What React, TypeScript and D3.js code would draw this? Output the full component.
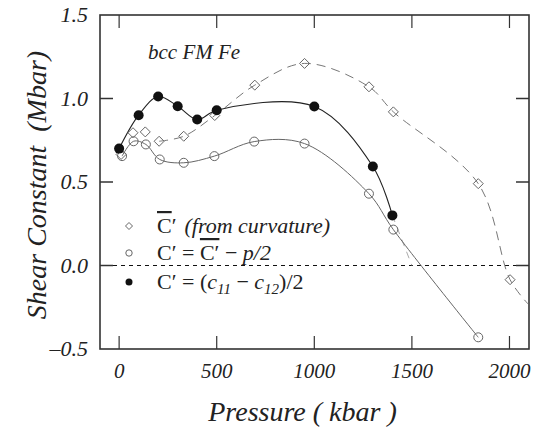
import React from "react";
import * as d3 from "d3";

// pressure (kbar), shear constant (Mbar)
const filledP = [0, 100, 200, 300, 400, 500, 1000, 1300, 1400];
const filledC = [0.70, 0.90, 1.012, 0.954, 0.874, 0.93, 0.952, 0.593, 0.30];

const openP = [15, 74, 137, 208, 331, 488, 692, 950, 1280, 1405, 1840];
const openC = [0.655, 0.744, 0.725, 0.635, 0.615, 0.655, 0.742, 0.73, 0.43, 0.215, -0.43];

const diamondP = [10, 71, 134, 205, 331, 490, 695, 950, 1280, 1405, 1840, 2003];
const diamondC = [0.665, 0.795, 0.80, 0.744, 0.774, 0.898, 1.08, 1.21, 1.07, 0.92, 0.49, -0.085];
const diamondLineStart = 3; // dashed curve begins at the 4th diamond
const diamondTailP = [2095];
const diamondTailC = [-0.23];

const extensionP = [1400, 1500];
const extensionC = [0.30, 0.0];

const xTicks = [0, 500, 1000, 1500, 2000];
const yTicks = [-0.5, 0.0, 0.5, 1.0, 1.5];
const yTickLabels = ["\u20130.5", "0.0", "0.5", "1.0", "1.5"];

const W = 542, H = 432;
const M = { left: 100, right: 529, top: 15, bottom: 349 };
const FONT = "'Liberation Serif', serif";

export default function App() {
  const x = d3.scaleLinear().domain([-98, 2100]).range([M.left, M.right]);
  const y = d3.scaleLinear().domain([-0.5, 1.5]).range([M.bottom, M.top]);
  const line = d3
    .line<[number, number]>()
    .x((d) => x(d[0]))
    .y((d) => y(d[1]))
    .curve(d3.curveCatmullRom.alpha(0.5));
  const straight = d3
    .line<[number, number]>()
    .x((d) => x(d[0]))
    .y((d) => y(d[1]));

  const filled: [number, number][] = filledP.map((p, i) => [p, filledC[i]]);
  const open: [number, number][] = openP.map((p, i) => [p, openC[i]]);
  const diamonds: [number, number][] = diamondP.map((p, i) => [p, diamondC[i]]);
  const dashedPts: [number, number][] = [
    ...diamonds.slice(diamondLineStart),
    ...diamondTailP.map((p, i) => [p, diamondTailC[i]] as [number, number]),
  ];
  const ext: [number, number][] = extensionP.map((p, i) => [p, extensionC[i]]);

  const diamondPath = (cx: number, cy: number, r: number) =>
    `M${cx},${cy - r}L${cx + r},${cy}L${cx},${cy + r}L${cx - r},${cy}Z`;

  const tickLen = 13;
  const axisColor = "#333";
  const fs = { fontFamily: FONT };

  return (
    <svg
      width={W}
      height={H}
      style={{ position: "absolute", left: 0, top: 0, background: "#fff", fontFamily: FONT }}
    >
      <rect x={0} y={0} width={W} height={H} fill="#fff" />
      {/* zero line */}
      <line
        x1={M.left + tickLen}
        x2={M.right - tickLen}
        y1={y(0)}
        y2={y(0)}
        stroke="#111"
        strokeWidth={1}
        strokeDasharray="4,4"
      />
      {/* ticks */}
      {xTicks.map((t) => (
        <g key={"xt" + t}>
          <line x1={x(t)} x2={x(t)} y1={M.bottom} y2={M.bottom - tickLen} stroke={axisColor} strokeWidth={1.2} />
          <line x1={x(t)} x2={x(t)} y1={M.top} y2={M.top + tickLen} stroke={axisColor} strokeWidth={1.2} />
          <text
            x={x(t)}
            y={M.bottom + 29}
            textAnchor="middle"
            fontSize={21}
            fontStyle="italic"
            fill="#222"
            style={fs}
          >
            {t}
          </text>
        </g>
      ))}
      {yTicks.map((t, i) => (
        <g key={"yt" + t}>
          {t > -0.5 && t < 1.5 && (
            <>
              <line x1={M.left} x2={M.left + tickLen} y1={y(t)} y2={y(t)} stroke={axisColor} strokeWidth={1.5} />
              <line x1={M.right} x2={M.right - tickLen} y1={y(t)} y2={y(t)} stroke={axisColor} strokeWidth={1.5} />
            </>
          )}
          <text
            x={M.left - 12}
            y={y(t) + 7}
            textAnchor="end"
            fontSize={22}
            fontStyle="italic"
            fill="#222"
            style={fs}
          >
            {yTickLabels[i]}
          </text>
        </g>
      ))}
      {/* frame */}
      <rect
        x={M.left}
        y={M.top}
        width={M.right - M.left}
        height={M.bottom - M.top}
        fill="none"
        stroke={axisColor}
        strokeWidth={1.6}
      />
      {/* curves */}
      <path d={straight(ext) || ""} fill="none" stroke="#aaa" strokeWidth={1} strokeDasharray="7,6" />
      <path d={line(dashedPts) || ""} fill="none" stroke="#777" strokeWidth={1} strokeDasharray="9,6" />
      <path d={line(open) || ""} fill="none" stroke="#666" strokeWidth={1} />
      <path d={line(filled) || ""} fill="none" stroke="#222" strokeWidth={1.1} />
      {/* markers */}
      {diamonds.map((d, i) => (
        <path key={"d" + i} d={diamondPath(x(d[0]), y(d[1]), 5)} fill="none" stroke="#666" strokeWidth={1} />
      ))}
      {open.map((d, i) => (
        <circle key={"o" + i} cx={x(d[0])} cy={y(d[1])} r={4.5} fill="none" stroke="#666" strokeWidth={1} />
      ))}
      {filled.map((d, i) => (
        <circle key={"f" + i} cx={x(d[0])} cy={y(d[1])} r={5} fill="#111" />
      ))}
      {/* annotation */}
      <text x={148} y={59} fontSize={21} fontStyle="italic" fill="#222" style={fs}>
        bcc FM Fe
      </text>
      {/* legend */}
      <path d={diamondPath(129, 226, 3.5)} fill="none" stroke="#666" strokeWidth={1} />
      <circle cx={129} cy={253} r={3.2} fill="none" stroke="#666" strokeWidth={1} />
      <circle cx={129} cy={282} r={3.5} fill="#111" />
      <text x={157} y={233} fontSize={22} fill="#222" style={fs}>
        <tspan textDecoration="overline">C</tspan>
        <tspan>′</tspan>
        <tspan dx={8} fontStyle="italic">(from curvature)</tspan>
      </text>
      <text x={157} y={260} fontSize={22} fill="#222" style={fs}>
        <tspan>C′ = </tspan>
        <tspan textDecoration="overline">C′</tspan>
        <tspan> − </tspan>
        <tspan fontStyle="italic">p/2</tspan>
      </text>
      <text x={157} y={289} fontSize={22} fill="#222" style={fs}>
        <tspan>C′ = (</tspan>
        <tspan fontStyle="italic">c</tspan>
        <tspan fontStyle="italic" fontSize={15} dy={5}>11</tspan>
        <tspan dy={-5}> − </tspan>
        <tspan fontStyle="italic">c</tspan>
        <tspan fontStyle="italic" fontSize={15} dy={5}>12</tspan>
        <tspan dy={-5}>)/2</tspan>
      </text>
      {/* axis titles */}
      <text
        x={(M.left + M.right) / 2 - 12}
        y={421}
        textAnchor="middle"
        fontSize={28}
        fontStyle="italic"
        fill="#222"
        style={fs}
      >
        Pressure ( kbar )
      </text>
      <text
        transform={`translate(46, ${185}) rotate(-90)`}
        textAnchor="middle"
        fontSize={28}
        fontStyle="italic"
        fill="#222"
        style={{ whiteSpace: "pre", fontFamily: FONT }}
      >
        {"Shear Constant  (Mbar)"}
      </text>
    </svg>
  );
}
